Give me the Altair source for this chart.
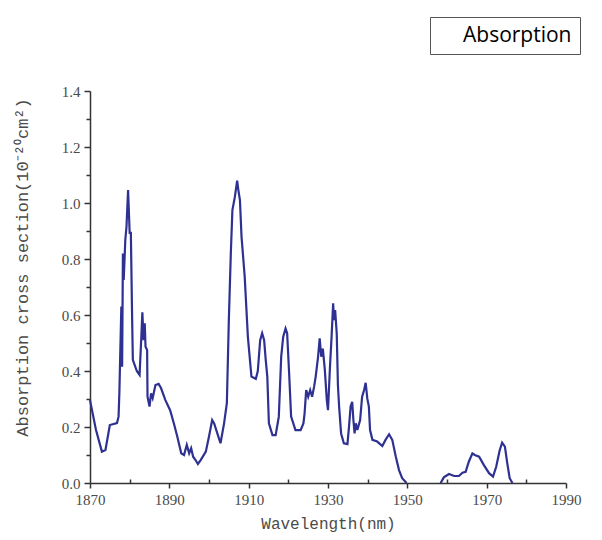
import altair as alt
import pandas as pd

# ---- data (wavelength nm, cross section 1e-20 cm^2) ----
wl_band1 = [1870.0, 1871.5, 1873.0, 1873.9, 1875.0, 1876.8, 1877.2, 1877.4, 1877.9, 1878.1,
            1878.3, 1878.5, 1878.9, 1879.2, 1879.6, 1880.0, 1880.3, 1880.6, 1880.8, 1881.8,
            1882.5, 1882.9, 1883.2, 1883.5, 1883.8, 1884.0, 1884.4, 1884.5, 1885.0, 1885.4,
            1885.8, 1886.5, 1887.3, 1887.9, 1889.0, 1890.2, 1891.2, 1892.0, 1893.0, 1893.7,
            1894.4, 1895.0, 1895.5, 1896.0, 1896.6, 1897.2, 1897.9, 1899.2, 1900.0, 1900.8,
            1901.3, 1902.1, 1902.9, 1903.8, 1904.5, 1905.0, 1905.5, 1905.9, 1906.5, 1907.1,
            1907.4, 1907.8, 1908.2, 1909.0, 1909.8, 1910.7, 1911.8, 1912.3, 1912.9, 1913.4,
            1913.9, 1914.3, 1914.7, 1915.1, 1916.0, 1916.8, 1917.6, 1918.2, 1918.7, 1919.3,
            1919.7, 1920.2, 1920.7, 1921.8, 1923.1, 1923.8, 1924.1, 1924.5, 1925.0, 1925.5,
            1926.0, 1926.5, 1926.9, 1927.5, 1927.9, 1928.3, 1928.7, 1929.2, 1929.7, 1930.0,
            1930.5, 1930.9, 1931.3, 1931.5, 1931.8, 1932.2, 1932.5, 1932.8, 1933.3, 1934.0,
            1934.9, 1935.3, 1935.7, 1936.1, 1936.4, 1936.7, 1937.0, 1937.4, 1938.1, 1938.6,
            1939.1, 1939.5, 1939.9, 1940.3, 1940.6, 1941.2, 1942.4, 1943.7, 1944.5, 1945.4,
            1946.2, 1947.1, 1947.9, 1948.7, 1949.8]
xs_band1 = [0.296, 0.190, 0.112, 0.118, 0.207, 0.214, 0.237, 0.320, 0.630, 0.415,
            0.820, 0.725, 0.868, 0.915, 1.046, 0.893, 0.893, 0.607, 0.440, 0.400,
            0.386, 0.510, 0.610, 0.510, 0.570, 0.487, 0.475, 0.308, 0.273, 0.320,
            0.303, 0.350, 0.354, 0.339, 0.296, 0.260, 0.210, 0.166, 0.106, 0.100,
            0.136, 0.106, 0.124, 0.094, 0.082, 0.068, 0.082, 0.112, 0.166, 0.225,
            0.213, 0.177, 0.142, 0.213, 0.285, 0.582, 0.820, 0.975, 1.020, 1.080,
            1.046, 1.010, 0.880, 0.737, 0.522, 0.380, 0.372, 0.400, 0.510, 0.535,
            0.510, 0.440, 0.380, 0.213, 0.171, 0.171, 0.237, 0.451, 0.522, 0.552,
            0.535, 0.392, 0.237, 0.189, 0.189, 0.213, 0.249, 0.332, 0.308, 0.332,
            0.308, 0.344, 0.380, 0.451, 0.517, 0.451, 0.480, 0.404, 0.296, 0.260,
            0.415, 0.522, 0.642, 0.582, 0.618, 0.535, 0.350, 0.273, 0.177, 0.142,
            0.139, 0.201, 0.273, 0.290, 0.225, 0.177, 0.213, 0.189, 0.225, 0.308,
            0.332, 0.358, 0.302, 0.273, 0.189, 0.154, 0.148, 0.132, 0.154, 0.174,
            0.154, 0.094, 0.046, 0.017, 0.000]

wl_band2 = [1958.4, 1959.2, 1960.5, 1961.8, 1963.0, 1963.9, 1964.7, 1965.5, 1966.4, 1967.0,
            1968.1, 1969.3, 1970.6, 1971.6, 1972.4, 1973.3, 1973.9, 1974.6, 1975.2, 1975.8,
            1976.5]
xs_band2 = [0.000, 0.020, 0.032, 0.025, 0.025, 0.037, 0.040, 0.076, 0.106, 0.100,
            0.094, 0.064, 0.035, 0.023, 0.058, 0.118, 0.144, 0.130, 0.070, 0.017,
            0.000]

series_name = "Absorption"
x_major = [1870, 1890, 1910, 1930, 1950, 1970, 1990]
x_minor = [1880, 1900, 1920, 1940, 1960, 1980]
y_major = [0.0, 0.2, 0.4, 0.6, 0.8, 1.0, 1.2, 1.4]
y_minor = [0.1, 0.3, 0.5, 0.7, 0.9, 1.1, 1.3]

df = pd.concat([
    pd.DataFrame({"wavelength": wl_band1, "xs": xs_band1, "band": "b1"}),
    pd.DataFrame({"wavelength": wl_band2, "xs": xs_band2, "band": "b2"}),
], ignore_index=True)
df["series"] = series_name

LINE = "#2e3192"
TEXT = "#4a4a4a"
AXC = "#333333"

x_scale = alt.Scale(domain=[1870, 1990], nice=False, zero=False)
y_scale = alt.Scale(domain=[0, 1.4], nice=False)

common_axis = dict(grid=False, domainColor=AXC, domainWidth=1.5, tickColor=AXC, tickWidth=1.5,
                   labelFont="Liberation Serif", labelFontSize=15, labelColor=TEXT,
                   labelFlush=False, titleFont="Liberation Mono", titleFontWeight="normal",
                   titleColor=TEXT)

line = alt.Chart(df).mark_line(strokeWidth=2.2).encode(
    x=alt.X("wavelength:Q", scale=x_scale,
            axis=alt.Axis(values=x_major, format="d", orient="bottom", title="Wavelength(nm)",
                          tickSize=5, labelPadding=4, titlePadding=8, titleFontSize=16,
                          **common_axis)),
    y=alt.Y("xs:Q", scale=y_scale,
            axis=alt.Axis(values=y_major, format=".1f", orient="left",
                          title="Absorption cross section(10⁻²⁰cm²)",
                          tickSize=6, labelPadding=4, titlePadding=30, titleFontSize=17,
                          titleY=176, **common_axis)),
    color=alt.Color("series:N", scale=alt.Scale(range=[LINE]),
                    legend=alt.Legend(title=None, orient="none", legendX=340, legendY=-74,
                                      strokeColor="#555555", fillColor="white", padding=8,
                                      labelFont="Open Sans", labelFontSize=21, labelColor="black",
                                      symbolType="circle", symbolSize=1, symbolOpacity=0,
                                      symbolStrokeWidth=0, labelOffset=4)),
    detail="band:N",
)

minor = alt.Chart(df).mark_line(opacity=0).encode(
    x=alt.X("wavelength:Q", scale=x_scale,
            axis=alt.Axis(values=x_minor, orient="bottom", labels=False, domain=False, title=None,
                          tickSize=4, offset=-4, grid=False, tickColor=AXC, tickWidth=1.5)),
    y=alt.Y("xs:Q", scale=y_scale,
            axis=alt.Axis(values=y_minor, orient="left", labels=False, domain=False, title=None,
                          tickSize=4, grid=False, tickColor=AXC, tickWidth=1.5)),
    detail="band:N",
)

chart = alt.layer(line, minor).resolve_axis(x="independent", y="independent").properties(
    width=476, height=392,
    autosize=alt.AutoSizeParams(type="none"),
    padding={"left": 82, "top": 83, "right": 28, "bottom": 49},
).configure_view(stroke=None)

chart.save("out.html", embed_options={"renderer": "svg", "actions": False})
